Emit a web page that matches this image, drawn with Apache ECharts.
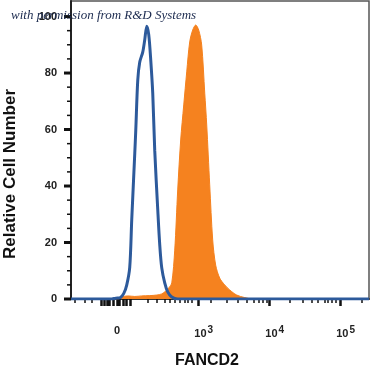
<!DOCTYPE html>
<html><head><meta charset="utf-8">
<script src="https://cdn.jsdelivr.net/npm/echarts@6/dist/echarts.min.js"></script>
<style>html,body{margin:0;padding:0;background:#fff}#c{width:371px;height:372px}</style>
</head><body><div id="c"></div>
<script>
// x positions are in display "decade" units of the biexponential axis (10^3 -> 3)
const xLabelValues = [1.85, 3, 4, 5];
const xLabelTexts = ['0', '10^3', '10^4', '10^5'];
const xMajorTicks = [1.62, 1.662, 1.704, 1.746, 1.79, 1.845, 1.887, 1.93, 1.972, 2.03, 3, 4, 5];
const xMinorTicks = [1.254, 1.394, 1.493, 2.282, 2.408, 2.521, 2.592, 2.662, 2.732, 2.803, 2.845, 2.901,
  3.17, 3.39, 3.55, 3.67, 3.77, 3.84, 3.90, 3.96,
  4.28, 4.47, 4.59, 4.68, 4.77, 4.82, 4.87, 4.93, 5.3];
const yTickStep = 20;
const yLabelMax = 100;
const yMajorTicks = [0, 20, 40, 60, 80, 100];
const yMinorTicks = [5, 10, 15, 25, 30, 35, 45, 50, 55, 65, 70, 75, 85, 90, 95];

const controlX = [1.2, 1.775, 1.831, 1.887, 1.944, 1.986, 2.028, 2.056, 2.099, 2.113, 2.141, 2.169, 2.211, 2.239, 2.268, 2.296, 2.324, 2.352, 2.38, 2.423, 2.451, 2.479, 2.521, 2.563, 2.62, 2.704, 5.4];
const controlY = [0, 0, 0.3, 0.4, 2.0, 5.0, 11.3, 28, 51.7, 59.8, 77.5, 83.9, 87.4, 91.7, 96.6, 93.5, 84.6, 72.9, 52.7, 31.5, 19.1, 11.0, 5.7, 2.5, 0.7, 0, 0];

const stainX = [1.2, 1.859, 1.915, 2.0, 2.099, 2.197, 2.31, 2.408, 2.479, 2.535, 2.577, 2.62, 2.662, 2.704, 2.746, 2.789, 2.831, 2.873, 2.915, 2.958, 3.0, 3.042, 3.085, 3.113, 3.155, 3.197, 3.239, 3.296, 3.366, 3.437, 3.535, 3.648, 3.761, 5.4];
const stainY = [0, 0, 0.7, 1.1, 0.9, 1.1, 1.2, 1.4, 1.8, 2.8, 3.9, 5.7, 17.3, 38.6, 56.3, 68.7, 80.4, 91.0, 95.2, 97.0, 95.2, 89.9, 72.9, 61.6, 40.4, 20.9, 12.0, 7.4, 5.0, 3.2, 1.4, 0.5, 0, 0];

const zip = (a, b) => a.map((v, i) => [v, b[i]]);
const FONT = 'Liberation Sans, Arial, sans-serif';
const X_MIN = 1.2, X_MAX = 5.4;

const chart = echarts.init(document.getElementById('c'), null, {renderer: 'canvas'});
const xCommon = {type: 'value', min: X_MIN, max: X_MAX, position: 'bottom', splitLine: {show: false}};
const textGraphics = [
  {type: 'text', left: 11, top: 9, z: 100,
   style: {text: 'with permission from R&D Systems', fontFamily: 'Liberation Serif, serif', fontStyle: 'italic', fontSize: 13, fill: '#1b2a4e'}},
  {type: 'text', x: 10, y: 174, rotation: Math.PI / 2,
   style: {text: 'Relative Cell Number', fontFamily: FONT, fontWeight: 'bold', fontSize: 17, fill: '#111', align: 'center', verticalAlign: 'middle'}},
  {type: 'text', x: 207, y: 361,
   style: {text: 'FANCD2', fontFamily: FONT, fontWeight: 'bold', fontSize: 16, fill: '#111', align: 'center', verticalAlign: 'middle'}}
];
chart.setOption({
  animation: false,
  grid: {left: 71, right: 2, top: 1, bottom: 73, show: true, borderColor: '#555', borderWidth: 1.5, backgroundColor: 'transparent'},
  xAxis: [
    Object.assign({}, xCommon, {
      axisLine: {show: true, onZero: false, lineStyle: {color: '#333', width: 2}},
      axisTick: {show: true, inside: false, customValues: xMinorTicks, length: 4, lineStyle: {color: '#111', width: 1.5}},
      axisLabel: {show: true, customValues: xLabelValues, margin: 26,
        formatter: function (v) {
          const i = xLabelValues.findIndex(x => Math.abs(x - v) < 1e-6);
          const t = xLabelTexts[i] || '';
          if (t.indexOf('^') >= 0) { const p = t.split('^'); return '{p|}{b|' + p[0] + '}{s|' + p[1] + '}'; }
          return '{b|' + t + '}';
        },
        rich: {
          p: {width: 10},
          b: {fontFamily: FONT, fontWeight: 'bold', fontSize: 11, color: '#222'},
          s: {fontFamily: FONT, fontWeight: 'bold', fontSize: 10, color: '#222', verticalAlign: 'bottom', padding: [0, 0, 8, 1]}
        }
      }
    }),
    Object.assign({}, xCommon, {
      axisLine: {show: false, onZero: false},
      axisTick: {show: true, inside: false, customValues: xMajorTicks, length: 7, lineStyle: {color: '#111', width: 2.5}},
      axisLabel: {show: false}
    })
  ],
  yAxis: {
    type: 'value', min: 0, max: 105.5, interval: yTickStep,
    splitLine: {show: false},
    axisLine: {show: true, lineStyle: {color: '#222', width: 2}},
    axisTick: {show: false},
    axisLabel: {show: true, margin: 14, fontFamily: FONT, fontWeight: 'bold', fontSize: 11, color: '#222',
      formatter: v => (v % yTickStep === 0 && v <= yLabelMax) ? String(v) : ''}
  },
  series: [
    {type: 'line', name: 'FANCD2', data: zip(stainX, stainY), showSymbol: false, smooth: 0.3,
     lineStyle: {color: '#f5821f', width: 1}, itemStyle: {color: '#f5821f'},
     areaStyle: {color: '#f5821f', opacity: 1}, z: 2},
    {type: 'line', name: 'Control', data: zip(controlX, controlY), showSymbol: false, smooth: 0.3,
     lineStyle: {color: '#2d5a9b', width: 3}, itemStyle: {color: '#2d5a9b'}, z: 3}
  ],
  graphic: textGraphics
});

// y-axis tick marks placed through the chart's own y scale
const axisX = chart.convertToPixel({xAxisIndex: 0}, X_MIN);
const tickLines = [];
function addTicks(values, len, width) {
  values.forEach(v => {
    const py = chart.convertToPixel({yAxisIndex: 0}, v);
    tickLines.push({type: 'line', z: 50, silent: true,
      shape: {x1: axisX - len, y1: py, x2: axisX, y2: py},
      style: {stroke: '#111', lineWidth: width}});
  });
}
addTicks(yMajorTicks, 7, 3);
addTicks(yMinorTicks, 4, 1.5);
chart.setOption({graphic: textGraphics.concat(tickLines)}, {replaceMerge: ['graphic']});
</script></body></html>
